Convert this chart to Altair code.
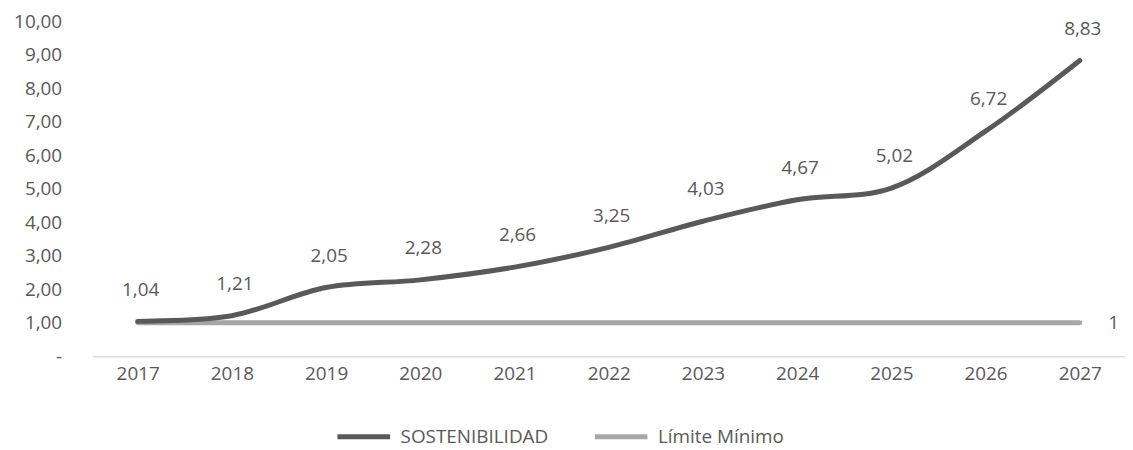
import altair as alt
import pandas as pd

years = [str(y) for y in range(2017, 2028)]
sostenibilidad = [1.04, 1.21, 2.05, 2.28, 2.66, 3.25, 4.03, 4.67, 5.02, 6.72, 8.83]
limite = [1, 1, 1, 1, 1, 1, 1, 1, 1, 1, 1]
series = ["SOSTENIBILIDAD", "Límite Mínimo"]
colors = ["#595959", "#A6A6A6"]
y_ticks = [0, 1, 2, 3, 4, 5, 6, 7, 8, 9, 10]

rows = []
for yr, s, l in zip(years, sostenibilidad, limite):
    rows.append({"year": yr, "series": series[0], "value": s})
    rows.append({"year": yr, "series": series[1], "value": l})
df = pd.DataFrame(rows)

FONT = "Open Sans"
TXT = "#595959"
FS = 19

x = alt.X(
    "year:O",
    scale=alt.Scale(type="point", padding=0.48),
    axis=alt.Axis(
        title=None, labelAngle=0, ticks=False, domainColor="#D9D9D9",
        domainWidth=1.5, labelPadding=8, labelFontSize=FS, labelColor=TXT,
        labelFont=FONT,
    ),
)
y = alt.Y(
    "value:Q",
    scale=alt.Scale(domain=[0, 10], nice=False),
    axis=alt.Axis(
        title=None, values=y_ticks, grid=False, domain=False, ticks=False,
        labelPadding=31, labelFontSize=FS, labelColor=TXT, labelFont=FONT,
        labelExpr="datum.value == 0 ? '-\u00a0\u00a0\u00a0' : replace(format(datum.value, '.2f'), '.', ',')",
    ),
)
color = alt.Color(
    "series:N",
    scale=alt.Scale(domain=series, range=colors),
    legend=alt.Legend(
        title=None, orient="none", legendX=244, legendY=389, direction="horizontal",
        symbolType="stroke", symbolStrokeWidth=5, symbolSize=2800,
        labelFontSize=FS, labelFont=FONT, labelColor=TXT, columnPadding=36,
        padding=0, labelOffset=8,
    ),
)

base = alt.Chart(df)

lim_line = base.transform_filter(alt.datum.series == series[1]).mark_line(
    strokeWidth=5, strokeCap="round", interpolate="catmull-rom"
).encode(x=x, y=y, color=color)

sost_line = base.transform_filter(alt.datum.series == series[0]).mark_line(
    strokeWidth=5, strokeCap="round", interpolate="catmull-rom"
).encode(x=x, y=y, color=color)

sost_text = base.transform_filter(alt.datum.series == series[0]).transform_calculate(
    label="replace(format(datum.value, '.2f'), '.', ',')"
).mark_text(dy=-32, dx=3, fontSize=FS, font=FONT, color=TXT).encode(
    x=x, y=y, text="label:N"
)

lim_text = base.transform_filter(
    (alt.datum.series == series[1]) & (alt.datum.year == years[-1])
).mark_text(dx=34, fontSize=FS, font=FONT, color=TXT).encode(
    x=x, y=y, text=alt.Text("value:Q", format="d")
)

chart = alt.layer(lim_line, sost_line, sost_text, lim_text).properties(
    width=1039, height=337,
    autosize=alt.AutoSizeParams(type="none"),
    padding={"left": 85, "top": 12, "right": 0, "bottom": 93},
).configure_view(stroke=None)

chart.save("out.html", embed_options={"renderer": "svg", "actions": False})
